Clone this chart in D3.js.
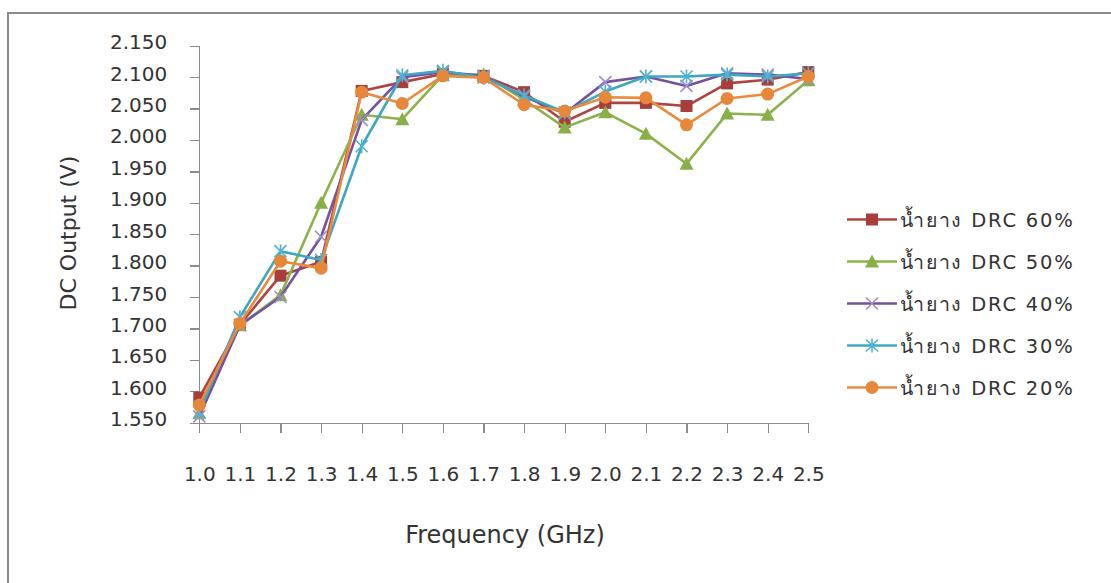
<!DOCTYPE html>
<html>
<head>
<meta charset="utf-8">
<script src="https://cdn.jsdelivr.net/npm/d3@7"></script>
<style>
  html, body { margin: 0; padding: 0; background: #fff; }
  svg { display: block; }
  text { font-family: "DejaVu Sans", "Liberation Sans", sans-serif; fill: #333; }
</style>
</head>
<body>
<svg id="chart" width="1111" height="583"></svg>
<script>
// Frequency categories (GHz)
const frequencies = ["1.0","1.1","1.2","1.3","1.4","1.5","1.6","1.7","1.8","1.9","2.0","2.1","2.2","2.3","2.4","2.5"];

// DC output (V) per latex DRC level
const drc60 = [1.590, 1.706, 1.784, 1.806, 2.078, 2.092, 2.105, 2.102, 2.076, 2.029, 2.059, 2.059, 2.054, 2.090, 2.096, 2.108];
const drc50 = [1.565, 1.705, 1.753, 1.900, 2.040, 2.033, 2.103, 2.104, 2.064, 2.020, 2.044, 2.010, 1.962, 2.042, 2.040, 2.095];
const drc40 = [1.560, 1.705, 1.750, 1.846, 2.032, 2.100, 2.108, 2.102, 2.069, 2.042, 2.092, 2.101, 2.086, 2.106, 2.104, 2.097];
const drc30 = [1.567, 1.718, 1.823, 1.809, 1.990, 2.103, 2.110, 2.099, 2.071, 2.044, 2.077, 2.101, 2.101, 2.104, 2.101, 2.106];
const drc20 = [1.578, 1.708, 1.807, 1.796, 2.076, 2.058, 2.102, 2.099, 2.056, 2.046, 2.068, 2.067, 2.024, 2.066, 2.073, 2.101];

const seriesNames = ["น้ำยาง DRC 60%", "น้ำยาง DRC 50%", "น้ำยาง DRC 40%", "น้ำยาง DRC 30%", "น้ำยาง DRC 20%"];
const seriesValues = [drc60, drc50, drc40, drc30, drc20];

// Y axis ticks (V)
const yTicks = [1.55, 1.60, 1.65, 1.70, 1.75, 1.80, 1.85, 1.90, 1.95, 2.00, 2.05, 2.10, 2.15];

const styles = [
  { line: "#B0433F", mark: "#A63F3B", shape: "square" },
  { line: "#8DB14B", mark: "#89AF48", shape: "triangle" },
  { line: "#7452A0", mark: "#A18DCA", shape: "cross" },
  { line: "#3DA7C4", mark: "#4FB3D2", shape: "star" },
  { line: "#EA8A3A", mark: "#E6873A", shape: "circle" }
];

const svg = d3.select("#chart");

// Outer chart frame (extends past the right and bottom edges)
svg.append("rect")
  .attr("x", 8).attr("y", 13)
  .attr("width", 1200).attr("height", 700)
  .attr("fill", "none").attr("stroke", "#8a8a8a").attr("stroke-width", 2);

const plot = { left: 199.3, right: 808.3, top: 45.7, bottom: 422.7 };

const x = d3.scalePoint().domain(frequencies).range([plot.left, plot.right]);
const y = d3.scaleLinear().domain([1.55, 2.15]).range([plot.bottom, plot.top]);

// Y axis
const yAxis = svg.append("g")
  .attr("transform", `translate(${plot.left},0)`)
  .call(d3.axisLeft(y).tickValues(yTicks).tickFormat(d3.format(".3f")).tickSize(9).tickSizeOuter(0).tickPadding(23));
yAxis.select(".domain").attr("stroke", "#8c8c8c").attr("stroke-width", 1.3);
yAxis.selectAll(".tick line").attr("stroke", "#8c8c8c").attr("stroke-width", 1.3);
yAxis.selectAll(".tick text")
  .attr("font-size", 20).attr("fill", "#333")
  .attr("dy", "0.15em");

// X axis
const xAxis = svg.append("g")
  .attr("transform", `translate(0,${plot.bottom})`)
  .call(d3.axisBottom(x).tickSize(10).tickSizeOuter(0).tickPadding(34));
xAxis.select(".domain").attr("stroke", "#8c8c8c").attr("stroke-width", 1.3);
xAxis.selectAll(".tick line").attr("stroke", "#8c8c8c").attr("stroke-width", 1.3);
xAxis.selectAll(".tick text")
  .attr("font-size", 20).attr("fill", "#333");
svg.selectAll(".domain, .tick line").attr("shape-rendering", "crispEdges");
svg.selectAll("g").attr("font-family", null);

// Axis titles
svg.append("text")
  .attr("x", 505).attr("y", 543)
  .attr("text-anchor", "middle")
  .attr("font-size", 24)
  .text("Frequency (GHz)");

svg.append("text")
  .attr("transform", "translate(76,233) rotate(-90)")
  .attr("text-anchor", "middle")
  .attr("font-size", 22)
  .text("DC Output (V)");

// Marker drawing
function drawMarker(g, shape, cx, cy, color) {
  if (shape === "square") {
    g.append("rect").attr("x", cx - 6).attr("y", cy - 6).attr("width", 12).attr("height", 12).attr("fill", color);
  } else if (shape === "triangle") {
    g.append("path").attr("d", `M${cx},${cy - 7}L${cx + 7},${cy + 6}L${cx - 7},${cy + 6}Z`).attr("fill", color);
  } else if (shape === "circle") {
    g.append("circle").attr("cx", cx).attr("cy", cy).attr("r", 6.5).attr("fill", color);
  } else if (shape === "cross") {
    g.append("path").attr("d", `M${cx - 6},${cy - 6}L${cx + 6},${cy + 6}M${cx - 6},${cy + 6}L${cx + 6},${cy - 6}`)
      .attr("stroke", color).attr("stroke-width", 1.6).attr("fill", "none");
  } else if (shape === "star") {
    g.append("path").attr("d", `M${cx - 6},${cy - 6}L${cx + 6},${cy + 6}M${cx - 6},${cy + 6}L${cx + 6},${cy - 6}M${cx},${cy - 7}L${cx},${cy + 7}`)
      .attr("stroke", color).attr("stroke-width", 1.6).attr("fill", "none");
  }
}

// Series lines and markers
const line = d3.line().x((d, i) => x(frequencies[i])).y(d => y(d));
seriesValues.forEach((vals, s) => {
  const g = svg.append("g");
  g.append("path")
    .attr("d", line(vals))
    .attr("fill", "none")
    .attr("stroke", styles[s].line)
    .attr("stroke-width", 2.6)
    .attr("stroke-linejoin", "round");
  vals.forEach((v, i) => drawMarker(g, styles[s].shape, x(frequencies[i]), y(v), styles[s].mark));
});

// Legend
const legend = svg.append("g");
seriesNames.forEach((name, s) => {
  const ly = 219.5 + s * 42;
  legend.append("line")
    .attr("x1", 847).attr("x2", 897).attr("y1", ly).attr("y2", ly)
    .attr("stroke", styles[s].line).attr("stroke-width", 2.6);
  drawMarker(legend, styles[s].shape, 872, ly, styles[s].mark);
  legend.append("text")
    .attr("x", 900).attr("y", ly + 7)
    .attr("font-size", 19.5)
    .attr("letter-spacing", 1.8)
    .text(name);
});
</script>
</body>
</html>
